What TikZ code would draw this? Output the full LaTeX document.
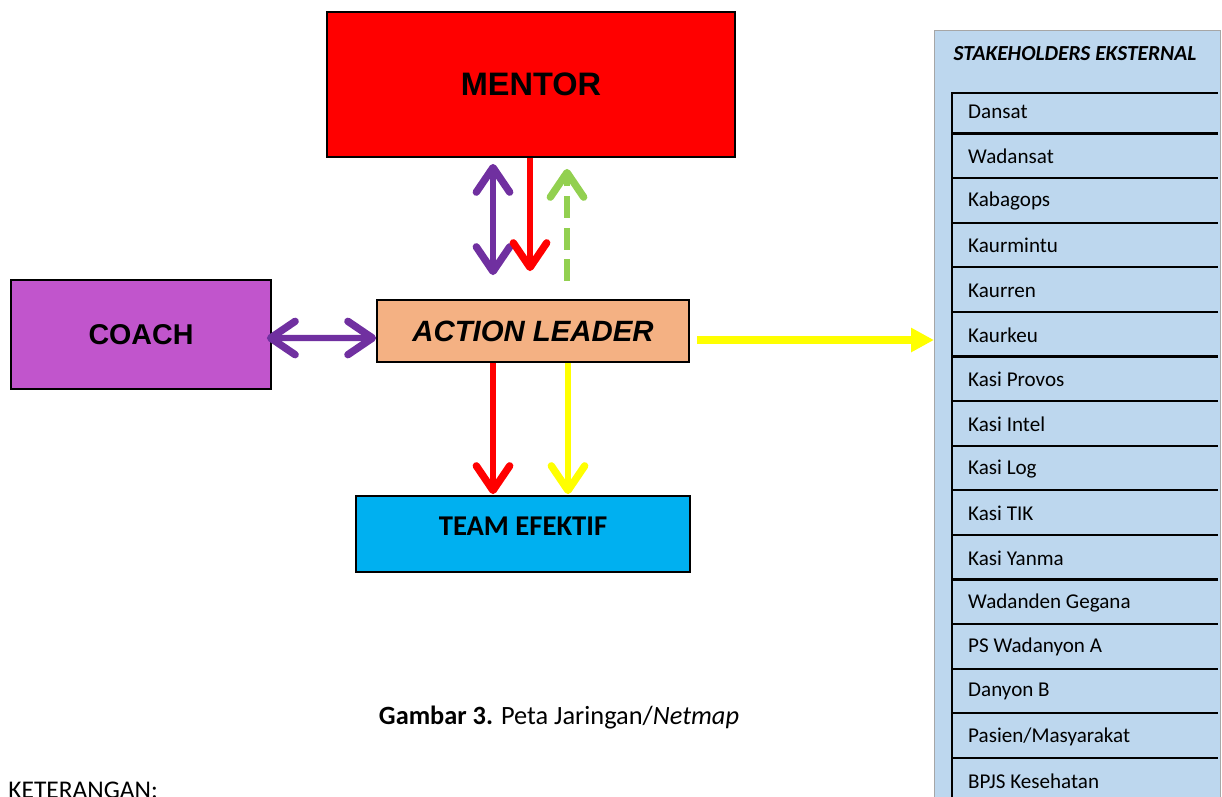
\documentclass[tikz,border=0pt]{standalone}
\usepackage{fontspec}
\setmainfont{Carlito}
\newfontfamily\arialf{Liberation Sans}
\usetikzlibrary{arrows.meta,calc}
\definecolor{ungu}{HTML}{7030A0}
\definecolor{hijau}{HTML}{92D050}
\definecolor{kuning}{HTML}{FFFF00}
\definecolor{oranye}{HTML}{F4B183}
\definecolor{biru}{HTML}{00B0F0}
\definecolor{birumuda}{HTML}{BDD7EE}
\definecolor{lila}{HTML}{C155CC}
\newcommand{\garis}[1]{\draw[line width=1.3pt] (952,#1) --++ (266,0)}
\tikzset{
  kait/.tip={Straight Barb[length=14pt,width=19pt,line width=4.2pt,round]},
  kotak/.style={draw=black,line width=1pt,inner sep=0pt},
  tebal/.style={line width=3.6pt},
  panah/.style={tebal,-kait},
  panahdua/.style={tebal,kait-kait}
}

\begin{document}
\begin{tikzpicture}[x=0.02cm,y=-0.02cm]
	\useasboundingbox (0,0) rectangle (1222,796);
	\node[kotak,fill=red,minimum width=8.16cm,minimum height=2.9cm,font=\arialf\bfseries\fontsize{18.5}{20}\selectfont] (mentor) at (531,84.5) {MENTOR};
	\node[kotak,fill=lila,minimum width=5.2cm,minimum height=2.18cm,font=\arialf\bfseries\fontsize{16.3}{18}\selectfont] (coach) at (141,334.5) {COACH};
	\node[kotak,fill=oranye,minimum width=6.24cm,minimum height=1.24cm,font=\arialf\bfseries\itshape\fontsize{16.7}{18}\selectfont] (al) at (533,331) {ACTION LEADER};
	\node[kotak,fill=biru,minimum width=6.68cm,minimum height=1.52cm,text depth=0.32cm,font=\bfseries\fontsize{16.3}{18}\selectfont] (team) at (523,534) {TEAM EFEKTIF};
	\draw[draw=gray!70,fill=birumuda] (934,30) rectangle (1220,810);
	\coordinate (ext) at (934,340);
	\node[font=\bfseries\itshape\fontsize{12.2}{14}\selectfont] (judul) at (1075,54) {STAKEHOLDERS EKSTERNAL};
	\draw[line width=1.3pt] (952,800) -- (952,93) -- (1218,93);
	\foreach \nama [count=\i] in {Dansat,Wadansat,Kabagops,Kaurmintu,Kaurren,Kaurkeu,Kasi Provos,Kasi Intel,Kasi Log,Kasi TIK,Kasi Yanma,Wadanden Gegana,PS Wadanyon A,Danyon B,Pasien/Masyarakat,BPJS Kesehatan}{
		\node[anchor=west,font=\fontsize{12}{14}\selectfont] (r\i) at (962,{67.4+44.6*\i}) {\nama};
		\garis{{88.9+44.6*\i}};
	}
	\draw[panahdua,ungu] ($(mentor.south)+(-38,6)$) -- ($(al.north)+(-40,-24)$);
	\draw[panah,red] ($(mentor.south)+(-1,0)$) -- ($(al.north)+(-3,-28)$);
	\draw[panah,hijau,dash pattern=on 12.5pt off 5.5pt] ($(al.north)+(34,-18)$) -- ($(mentor.south)+(36,11)$);
	\draw[panahdua,ungu] ($(coach.east)+(-5,3.5)$) -- ($(al.west)+(0,7)$);
	\draw[panah,red] ($(al.south)+(-40,0)$) -- ($(team.north)+(-30,-1)$);
	\draw[panah,kuning] ($(al.south)+(35,0)$) -- ($(team.north)+(45,-1)$);
	\draw[kuning,line width=4.5pt,-{Triangle[length=13pt,width=13pt]}] ($(al.east)+(7,9)$) -- (ext);
	\node[font=\fontsize{15}{17}\selectfont] (cap) at (559,717) {\textbf{Gambar 3.} Peta Jaringan/\textit{Netmap}};
	\node[anchor=base west,inner sep=0pt,font=\fontsize{14.5}{17}\selectfont] (ket) at (8,798) {KETERANGAN:};
\end{tikzpicture}
\end{document}
